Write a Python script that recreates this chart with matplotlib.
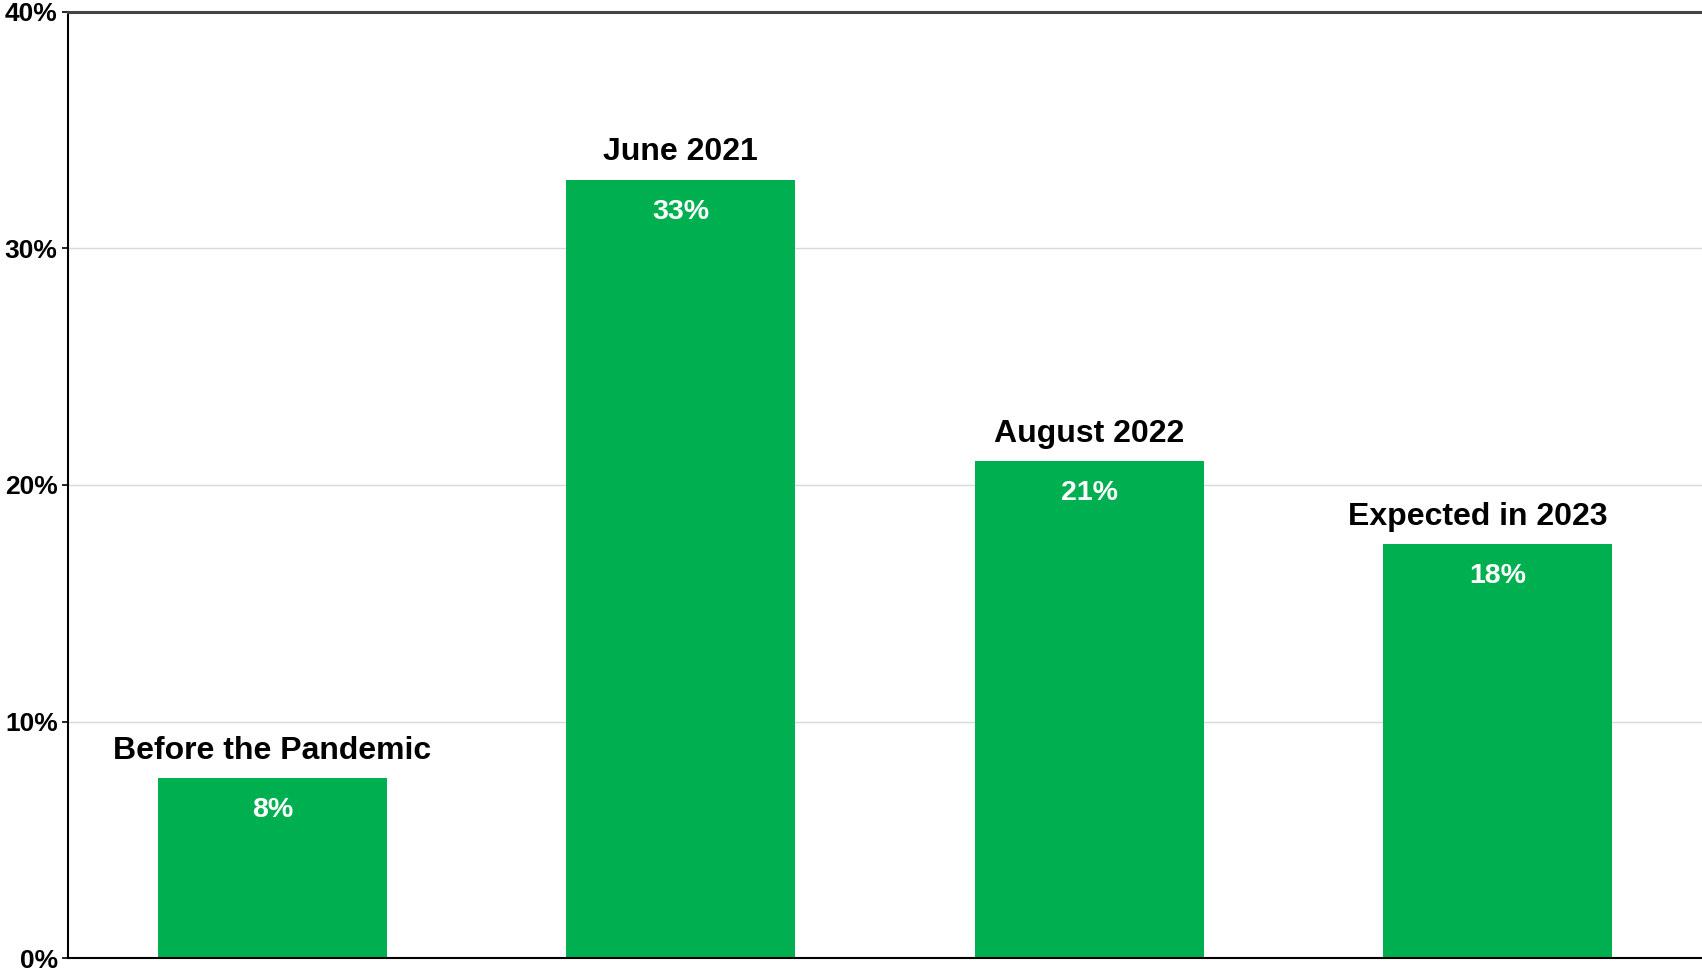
import numpy as np
import matplotlib
matplotlib.use('Agg')
import matplotlib.pyplot as plt

plt.rcParams['font.family'] = ['Liberation Sans', 'DejaVu Sans']

# data
categories = ['Before the Pandemic', 'June 2021', 'August 2022', 'Expected in 2023']
values = [7.6, 32.9, 21.0, 17.5]
value_labels = ['8%', '33%', '21%', '18%']
yticks = [0, 10, 20, 30, 40]
ytick_labels = ['0%', '10%', '20%', '30%', '40%']

green = '#00B050'

fig = plt.figure(figsize=(17.02, 9.73), dpi=100)
ax = fig.add_axes([0.040, 0.0154, 0.960, 0.9723])

x = np.arange(len(categories))
bars = ax.bar(x, values, width=0.56, color=green, zorder=2)

ax.set_xlim(-0.5, 3.5)
ax.set_ylim(0, 40)
ax.set_yticks(yticks)
ax.set_yticklabels(ytick_labels, fontsize=19, fontweight='bold')
ax.set_xticks([])

ax.yaxis.grid(True, color='#d9d9d9', linewidth=1, zorder=0)
ax.set_axisbelow(True)
ax.tick_params(axis='y', length=4.5, width=1.2, pad=3)

for s in ['left', 'bottom']:
    ax.spines[s].set_color('black')
    ax.spines[s].set_linewidth(1.5)
ax.spines['right'].set_visible(False)
ax.spines['top'].set_color('#444444')
ax.spines['top'].set_linewidth(2.2)

# labels above and inside bars
for i, (xi, v, cat, lab) in enumerate(zip(x, values, categories, value_labels)):
    dx = -14.5 if i == len(categories) - 1 else 0
    ax.annotate(cat, (xi, v), xytext=(dx, 14), textcoords='offset points',
                ha='center', va='baseline', fontsize=23, fontweight='bold', color='black')
    ax.annotate(lab, (xi, v), xytext=(0, -28), textcoords='offset points',
                ha='center', va='baseline', fontsize=20.5, fontweight='bold', color='white')

fig.savefig('out.png', dpi=100)
